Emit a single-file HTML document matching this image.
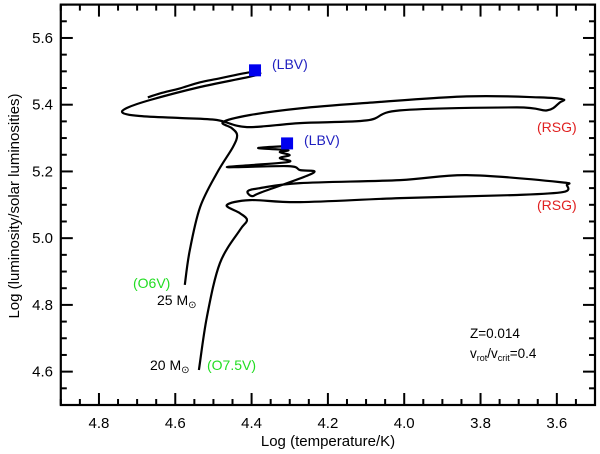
<!DOCTYPE html>
<html><head><meta charset="utf-8"><style>
body{margin:0;background:#fff;}
svg{display:block;font-family:"Liberation Sans",Arial,sans-serif;}
</style></head><body>
<svg id="c" width="600" height="454" viewBox="0 0 600 454"></svg>
<script>
const xTicks=[4.8,4.6,4.4,4.2,4.0,3.8,3.6];
const xTickLabels=["4.8","4.6","4.4","4.2","4.0","3.8","3.6"];
const yTicks=[4.6,4.8,5.0,5.2,5.4,5.6];
const yTickLabels=["4.6","4.8","5.0","5.2","5.4","5.6"];
const track25T=[4.575,4.562,4.535,4.491,4.449,4.438,4.452,4.475,4.404,4.273,4.116,3.836,3.645,3.584,3.592,3.626,3.705,4.011,4.098,4.273,4.412,4.491,4.588,4.693,4.737,4.727,4.666,4.535,4.386,4.404,4.483,4.535,4.588,4.640,4.672];
const track25L=[4.860,4.964,5.093,5.195,5.273,5.309,5.330,5.348,5.369,5.389,5.404,5.425,5.422,5.416,5.407,5.383,5.392,5.383,5.353,5.345,5.333,5.354,5.360,5.366,5.375,5.390,5.414,5.453,5.489,5.497,5.479,5.467,5.449,5.434,5.422];
const track20T=[4.538,4.517,4.483,4.431,4.412,4.431,4.465,4.404,4.273,4.011,3.715,3.584,3.574,3.592,3.836,4.011,4.273,4.378,4.410,4.399,4.373,4.239,4.273,4.305,4.465,4.305,4.326,4.300,4.326,4.305,4.383,4.307];
const track20L=[4.605,4.764,4.925,5.024,5.054,5.075,5.099,5.114,5.108,5.120,5.129,5.138,5.159,5.168,5.189,5.174,5.165,5.150,5.141,5.126,5.138,5.195,5.204,5.216,5.213,5.228,5.240,5.249,5.258,5.264,5.270,5.276];
const lbvT=[4.391,4.307];
const lbvL=[5.503,5.284];

const X0=60.8,X1=595,Y0=405,Y1=4.6;
const xMin=4.9,xMax=3.5,yMin=4.5,yMax=5.7;
function xs(v){return X0+(xMin-v)/(xMin-xMax)*(X1-X0);}
function ys(v){return Y0-(v-yMin)/(yMax-yMin)*(Y0-Y1);}
const svg=document.getElementById('c');
const NS="http://www.w3.org/2000/svg";
function mk(tag,attrs,parent){const e=document.createElementNS(NS,tag);for(const k in attrs)e.setAttribute(k,attrs[k]);(parent||svg).appendChild(e);return e;}

const tg=mk('g',{stroke:'#000','stroke-width':2});


for(let i=0;i<=28;i++){
  const v=xMin-i*0.05; const x=xs(v); const r=Math.round(v*100)%20; const major=(r===0);
  const L=major?12:6;
  mk('line',{x1:x,x2:x,y1:Y0,y2:Y0-L},tg);mk('line',{x1:x,x2:x,y1:Y1,y2:Y1+L},tg);
}
for(let i=0;i<=24;i++){
  const v=yMin+i*0.05; const y=ys(v); const r=Math.round(v*100)%20; const major=(r===0);
  const L=major?12:6;
  mk('line',{x1:X0,x2:X0+L,y1:y,y2:y},tg);mk('line',{x1:X1,x2:X1-L,y1:y,y2:y},tg);
}
const frame=mk('rect',{x:X0,y:Y1,width:X1-X0,height:Y0-Y1,fill:'none',stroke:'#000','stroke-width':2.2});



xTicks.forEach((v,i)=>{const t=mk('text',{x:xs(v),y:428,'text-anchor':'middle','font-size':15});t.textContent=xTickLabels[i];

});
yTicks.forEach((v,i)=>{const t=mk('text',{x:53,y:ys(v)+5,'text-anchor':'end','font-size':15});t.textContent=yTickLabels[i];

});

const xt=mk('text',{x:328,y:446,'text-anchor':'middle','font-size':15});xt.textContent='Log (temperature/K)';


const yt=mk('text',{x:0,y:0,'text-anchor':'middle','font-size':15,transform:'translate(19,206) rotate(-90)'});yt.textContent='Log (luminosity/solar luminosities)';



function track(T,L,name){
  const P=T.map((t,i)=>[xs(t),ys(L[i])]);
  let d='M'+P[0][0].toFixed(1)+','+P[0][1].toFixed(1);
  for(let i=0;i<P.length-1;i++){
    const p0=P[Math.max(i-1,0)],p1=P[i],p2=P[i+1],p3=P[Math.min(i+2,P.length-1)];
    const c1x=p1[0]+(p2[0]-p0[0])/6,c1y=p1[1]+(p2[1]-p0[1])/6;
    const c2x=p2[0]-(p3[0]-p1[0])/6,c2y=p2[1]-(p3[1]-p1[1])/6;
    d+=' C'+c1x.toFixed(1)+','+c1y.toFixed(1)+' '+c2x.toFixed(1)+','+c2y.toFixed(1)+' '+p2[0].toFixed(1)+','+p2[1].toFixed(1);
  }
  const p=mk('path',{d:d,fill:'none',stroke:'#000','stroke-width':2.2,'stroke-linejoin':'round'});
  
  
}
track(track25T,track25L,'track-25msun');
track(track20T,track20L,'track-20msun');
lbvT.forEach((t,i)=>{const r=mk('rect',{x:xs(t)-6,y:ys(lbvL[i])-6,width:12,height:12,fill:'#0000ee'});

});

function lab(x,y,txt,col,name,size){const t=mk('text',{x:x,y:y,'font-size':size||14,fill:col});t.innerHTML=txt;

return t;}
lab(272,69,'(LBV)','#2020c0','lbv-label-1');
lab(304,145,'(LBV)','#2020c0','lbv-label-2');
lab(537,132,'(RSG)','#e02020','rsg-label-1');
lab(537,210,'(RSG)','#e02020','rsg-label-2');
lab(133,288,'(O6V)','#22dd22','o6v-label');
lab(207,370,'(O7.5V)','#22dd22','o75v-label');
lab(157,305,'25 M<tspan font-size="10" dy="3">⊙</tspan>','#000','mass-25-label');
lab(150,370,'20 M<tspan font-size="10" dy="3">⊙</tspan>','#000','mass-20-label');
lab(470,338,'Z=0.014','#000','metallicity-label',13.5);
lab(470,358,'v<tspan font-size="9" dy="3">rot</tspan><tspan dy="-3">/v</tspan><tspan font-size="9" dy="3">crit</tspan><tspan dy="-3">=0.4</tspan>','#000','rotation-label',13.5);
</script>
</body></html>
